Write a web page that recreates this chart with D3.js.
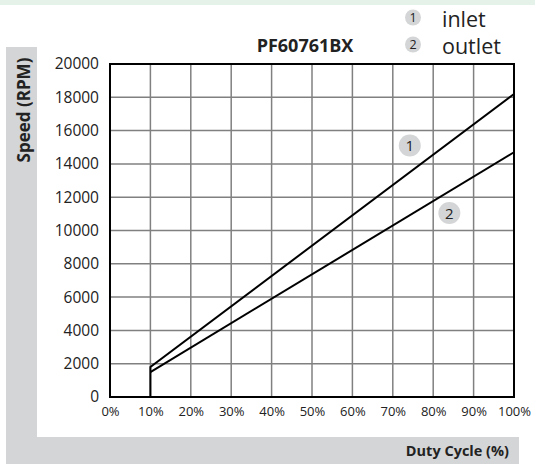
<!DOCTYPE html>
<html>
<head>
<meta charset="utf-8">
<script src="https://cdn.jsdelivr.net/npm/d3@7"></script>
<style>
  body { margin: 0; background: #fff; }
  text { font-family: "Open Sans", "Noto Sans", sans-serif; fill: #222; }
</style>
</head>
<body>
<div id="chart-area"></div>
<script>
// chart values
let dutyTicks = [0, 10, 20, 30, 40, 50, 60, 70, 80, 90, 100];
let speedTicks = [0, 2000, 4000, 6000, 8000, 10000, 12000, 14000, 16000, 18000, 20000];
let inlet = [[10, 0], [10, 1800], [100, 18200]];
let outlet = [[10, 1500], [100, 14700]];
let curveTags = [{ n: "1", duty: 74.2, speed: 15100 }, { n: "2", duty: 84, speed: 11050 }];
let legendItems = [{ n: "1", name: "inlet" }, { n: "2", name: "outlet" }];

let W = 535, H = 465;
let margin = { left: 110, top: 64, right: 21, bottom: 68 };
let width = W - margin.left - margin.right;
let height = H - margin.top - margin.bottom;

let svg = d3.select("#chart-area")
	.append("svg")
	.attr("width", W)
	.attr("height", H);

// background decorations
svg.append("rect").attr("x", 0).attr("y", 0).attr("width", W).attr("height", 5).attr("fill", "#e4f2e9");
svg.append("rect").attr("x", 6).attr("y", 47).attr("width", 31).attr("height", 417).attr("fill", "#d4d5d6");
svg.append("rect").attr("x", 6).attr("y", 437).attr("width", 513).attr("height", 27).attr("fill", "#d4d5d6");

svg.append("text")
	.attr("transform", "translate(30, 110) rotate(-90)")
	.attr("text-anchor", "middle")
	.attr("font-size", "17px")
	.attr("font-weight", "bold")
	.text("Speed (RPM)");

svg.append("text")
	.attr("x", 509)
	.attr("y", 456)
	.attr("text-anchor", "end")
	.attr("font-size", "14.5px")
	.attr("font-weight", "bold")
	.text("Duty Cycle (%)");

svg.append("text")
	.attr("x", 305)
	.attr("y", 52)
	.attr("text-anchor", "middle")
	.attr("font-size", "18px")
	.attr("font-weight", "bold")
	.text("PF60761BX");

// legend
let legend = svg.append("g");
legendItems.forEach(function(item, i) {
	let row = legend.append("g").attr("transform", "translate(413, " + (17.5 + i * 27) + ")");
	row.append("circle").attr("r", 8).attr("fill", "#d4d5d6");
	row.append("text").attr("y", 4.5).attr("text-anchor", "middle").attr("font-size", "12.5px").text(item.n);
	row.append("text").attr("x", 29).attr("y", 9).attr("font-size", "21.5px").attr("fill", "#333").text(item.name);
});

let g = svg.append("g").attr("transform", `translate(${margin.left}, ${margin.top})`);

let x = d3.scaleLinear().domain([0, 100]).range([0, width]);
let y = d3.scaleLinear().domain([0, 20000]).range([height, 0]);

// grid
g.selectAll(".vgrid").data(dutyTicks).enter().append("line")
	.attr("x1", d => x(d)).attr("x2", d => x(d))
	.attr("y1", 0).attr("y2", height)
	.attr("stroke", "#808080").attr("stroke-width", 1.5);
g.selectAll(".hgrid").data(speedTicks).enter().append("line")
	.attr("x1", 0).attr("x2", width)
	.attr("y1", d => y(d)).attr("y2", d => y(d))
	.attr("stroke", "#808080").attr("stroke-width", 1.5);

// axes (labels only)
let xAxisCall = d3.axisBottom(x).tickValues(dutyTicks).tickSize(0).tickPadding(10).tickFormat(d => d + "%");
let xAxis = g.append("g").attr("transform", `translate(0, ${height})`).call(xAxisCall);
xAxis.select(".domain").remove();
xAxis.selectAll("text").attr("font-size", "13px").attr("font-family", "Open Sans, sans-serif").attr("fill", "#222");

let yAxisCall = d3.axisLeft(y).tickValues(speedTicks).tickSize(0).tickPadding(11).tickFormat(d => d);
let yAxis = g.append("g").call(yAxisCall);
yAxis.select(".domain").remove();
yAxis.selectAll("text").attr("font-size", "15.5px").attr("font-family", "Open Sans, sans-serif").attr("fill", "#222");

// frame
g.append("rect").attr("width", width).attr("height", height)
	.attr("fill", "none").attr("stroke", "#000").attr("stroke-width", 2);

// curves
let line = d3.line().x(d => x(d[0])).y(d => y(d[1]));
[inlet, outlet].forEach(function(s) {
	g.append("path").datum(s).attr("d", line)
		.attr("fill", "none").attr("stroke", "#000").attr("stroke-width", 2);
});

// curve tags
curveTags.forEach(function(t) {
	let tag = g.append("g").attr("transform", `translate(${x(t.duty)}, ${y(t.speed)})`);
	tag.append("circle").attr("r", 11).attr("fill", "#d4d5d6");
	tag.append("text").attr("y", 5.5).attr("text-anchor", "middle").attr("font-size", "15px").attr("fill", "#333").text(t.n);
});
</script>
</body>
</html>
